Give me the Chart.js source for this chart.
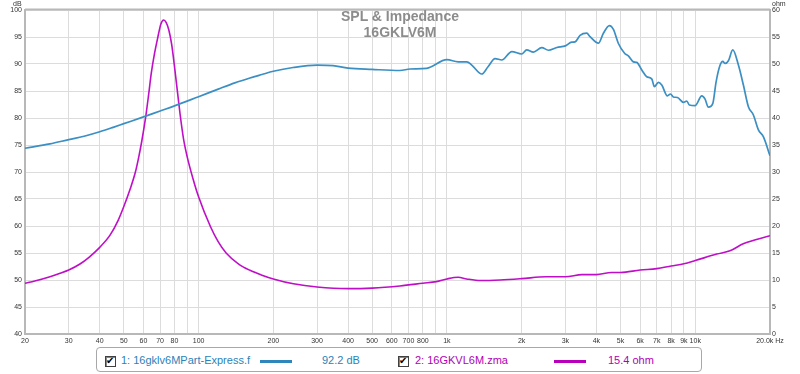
<!DOCTYPE html>
<html>
<head>
<meta charset="utf-8">
<script src="https://cdn.jsdelivr.net/npm/chart.js@4/dist/chart.umd.min.js"></script>
<style>
  html, body { margin:0; padding:0; background:#fff; }
  #wrap { position:relative; width:800px; height:374px; overflow:hidden; }
  #c { position:absolute; left:0; top:0; }
  .t { position:absolute; font-family:"Liberation Sans", Arial, sans-serif; white-space:nowrap; }
  #title { left:300px; width:200px; top:8px; text-align:center; font-weight:bold; font-size:14px; line-height:16px; color:#8c8c8c; }
  .unit { font-size:7px; color:#333; line-height:8px; top:0px; }
  #legend { position:absolute; left:96px; top:347px; width:604px; height:23px; border:1px solid #a8a8a8; border-radius:4px; background:#fff; }
  .cb { position:absolute; top:8px; width:9px; height:9px; border:1px solid #404040; background:#fff; box-shadow: inset 1px 1px 0 #888; }
  .cb span { position:absolute; left:0px; top:-3px; font-family:"DejaVu Sans", sans-serif; font-size:10px; font-weight:bold; color:#000; line-height:14px; }
  .lt { position:absolute; top:6px; font-family:"Liberation Sans", Arial, sans-serif; font-size:11px; line-height:13px; white-space:nowrap; }
  .ln { position:absolute; top:12px; height:3px; }
</style>
</head>
<body>
<div id="wrap">
  <canvas id="c" width="800" height="374"></canvas>
  <div class="t" id="title">SPL &amp; Impedance<br>16GKLV6M</div>
  <div class="t unit" style="left:13px;">dB</div>
  <div class="t unit" style="left:772px;">ohm</div>
  <div id="legend">
    <div class="cb" style="left:8px;"><span>✔</span></div>
    <div class="lt" style="left:24px; color:#2c82b8;">1: 16gklv6MPart-Express.f</div>
    <div class="ln" style="left:163px; width:32px; background:#2f86bd;"></div>
    <div class="lt" style="left:225px; color:#2c82b8;">92.2 dB</div>
    <div class="cb" style="left:301px;"><span>✔</span></div>
    <div class="lt" style="left:318px; color:#b000b4;">2: 16GKVL6M.zma</div>
    <div class="ln" style="left:457px; width:32px; background:#b800bc;"></div>
    <div class="lt" style="left:511px; color:#b000b4;">15.4 ohm</div>
  </div>
</div>
<script>
// ---- data ----
const splFreq = [20, 25.2, 30, 34.9, 40, 45.3, 50, 60, 70, 80, 100, 120, 140, 161, 180, 200, 240, 300, 348, 400, 500, 647, 710, 829, 1000, 1110, 1203, 1259, 1382, 1464, 1563, 1663, 1825, 2000, 2096, 2229, 2410, 2563, 2771, 3000, 3181, 3281, 3437, 3658, 3772, 4075, 4267, 4511, 4682, 4904, 5193, 5379, 5636, 5815, 6092, 6380, 6688, 6846, 7104, 7332, 7724, 7950, 8166, 8476, 8958, 9245, 9470, 10000, 10625, 10955, 11298, 11770, 12134, 12594, 12910, 13192, 13602, 14164, 14922, 15628, 16370, 17146, 17962, 18822, 20000];
const splDb = [74.4, 75.2, 76.0, 76.67, 77.45, 78.27, 78.95, 80.2, 81.3, 82.25, 83.95, 85.35, 86.5, 87.4, 88.05, 88.65, 89.35, 89.8, 89.7, 89.25, 89.0, 88.8, 89.07, 89.2, 90.8, 90.4, 90.4, 89.8, 88.15, 89.5, 91.0, 90.74, 92.3, 91.85, 92.6, 92.2, 93.05, 92.55, 93.05, 93.35, 94.05, 94.1, 95.3, 95.7, 95.06, 93.85, 95.7, 97.1, 96.4, 93.8, 92.0, 91.5, 90.4, 90.3, 88.9, 87.65, 87.2, 85.8, 86.6, 86.1, 84.1, 84.44, 83.9, 83.8, 82.9, 83.15, 82.4, 82.3, 84.1, 83.5, 82.0, 82.7, 86.7, 89.8, 90.5, 90.1, 90.6, 92.6, 89.8, 86.1, 82.1, 80.56, 77.8, 76.5, 73.0];

const impFreq = [20, 21.9, 25.2, 27.7, 30, 33.3, 36.4, 40, 44, 47.5, 50, 52.9, 55.6, 57.2, 59, 61.2, 63, 64.5, 66.5, 68.5, 70.5, 72.3, 74, 75.9, 78, 80, 82, 84.3, 87, 90, 94.9, 100, 111.6, 119.9, 129.1, 144.6, 161, 180, 200, 241, 300, 400, 500, 647, 800, 907, 1000, 1110, 1200, 1366, 1640, 2000, 2500, 3000, 3500, 4000, 4600, 5000, 6000, 7000, 8000, 9000, 10000, 12200, 13800, 15600, 20000];
const impOhm = [9.4, 9.8, 10.6, 11.25, 11.85, 12.96, 14.3, 16.05, 18.3, 21.1, 23.6, 26.7, 29.9, 32.4, 35.6, 40.1, 44.5, 48.3, 52.0, 54.9, 57.4, 58.15, 57.7, 56.3, 53.5, 49.5, 45.3, 40.6, 36.1, 32.8, 28.8, 25.4, 19.9, 17.1, 15.0, 13.0, 11.8, 10.9, 10.2, 9.3, 8.7, 8.4, 8.5, 8.9, 9.4, 9.7, 10.2, 10.5, 10.2, 9.9, 10.0, 10.25, 10.6, 10.6, 11.0, 11.0, 11.4, 11.4, 11.85, 12.1, 12.6, 13.0, 13.6, 14.8, 15.4, 16.7, 18.2];

const xTickValues = [20, 30, 40, 50, 60, 70, 80, 90, 100, 200, 300, 400, 500, 600, 700, 800, 900, 1000, 2000, 3000, 4000, 5000, 6000, 7000, 8000, 9000, 10000, 20000];
const xTickLabels = ['20', '30', '40', '50', '60', '70', '80', '', '100', '200', '300', '400', '500', '600', '700', '800', '', '1k', '2k', '3k', '4k', '5k', '6k', '7k', '8k', '9k', '10k', '20.0k Hz'];

const splLabel = '1: 16gklv6MPart-Express.f';
const impLabel = '2: 16GKVL6M.zma';

// ---- chart ----
const BLUE = '#3b8fc3';
const MAG = '#bf0fc6';
const GRID = '#dcdcdc';
const AXIS = '#b8b8b8';
const tickFont = { family: '"Liberation Sans", Arial, sans-serif', size: 7 };

const frame = {
  id: 'frame',
  afterDraw(chart) {
    const a = chart.chartArea, c = chart.ctx;
    c.save();
    c.strokeStyle = AXIS;
    c.lineWidth = 2;
    c.beginPath();
    c.moveTo(a.left, a.top - 0.5); c.lineTo(a.right, a.top - 0.5);
    c.stroke();
    c.restore();
  }
};

new Chart(document.getElementById('c'), {
  type: 'line',
  data: {
    datasets: [
      { label: splLabel, data: splFreq.map((f, i) => ({ x: f, y: splDb[i] })), yAxisID: 'y',
        borderColor: BLUE, borderWidth: 1.7, pointRadius: 0, cubicInterpolationMode: 'monotone', fill: false },
      { label: impLabel, data: impFreq.map((f, i) => ({ x: f, y: impOhm[i] })), yAxisID: 'y2',
        borderColor: MAG, borderWidth: 1.6, pointRadius: 0, cubicInterpolationMode: 'monotone', fill: false }
    ]
  },
  options: {
    responsive: false, animation: false, devicePixelRatio: 1,
    layout: { padding: { top: 10, left: 0, right: 0, bottom: 0 } },
    plugins: { legend: { display: false }, title: { display: false }, tooltip: { enabled: false } },
    scales: {
      x: {
        type: 'logarithmic', min: 20, max: 20000,
        afterBuildTicks: s => { s.ticks = xTickValues.map(v => ({ value: v })); },
        afterFit: s => { s.height = 40; },
        ticks: { autoSkip: false, maxRotation: 0, minRotation: 0, font: tickFont, color: '#333', padding: 3,
          callback: (v) => { const i = xTickValues.indexOf(v); return i >= 0 ? xTickLabels[i] : ''; } },
        grid: { color: GRID, drawTicks: false },
        border: { color: AXIS, width: 2 }
      },
      y: {
        position: 'left', min: 40, max: 100,
        afterFit: s => { s.width = 25; },
        ticks: { stepSize: 5, font: tickFont, color: '#333', padding: 3 },
        grid: { color: GRID, drawTicks: false },
        border: { color: AXIS, width: 2 }
      },
      y2: {
        position: 'right', min: 0, max: 60,
        afterFit: s => { s.width = 30; },
        ticks: { stepSize: 5, font: tickFont, color: '#333', padding: 2 },
        grid: { display: false, drawTicks: false },
        border: { color: AXIS, width: 2 }
      }
    }
  },
  plugins: [frame]
});
</script>
</body>
</html>
